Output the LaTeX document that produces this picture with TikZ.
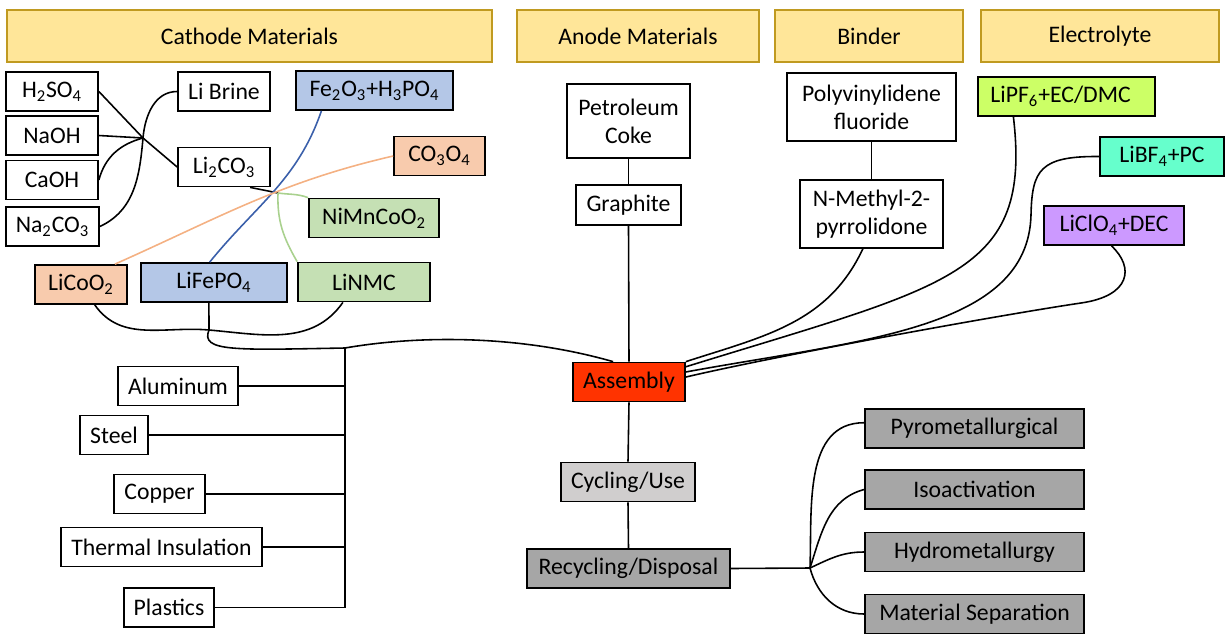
\documentclass[tikz,border=0pt]{standalone}
\usepackage{fontspec}
\setmainfont{Carlito}
\definecolor{hdrfill}{HTML}{FFE699}
\definecolor{hdrline}{HTML}{C09A20}
\definecolor{peach}{HTML}{F8CBAD}
\definecolor{paleblue}{HTML}{B4C7E7}
\definecolor{palegreen}{HTML}{C5E0B4}
\definecolor{asmred}{HTML}{FF3300}
\definecolor{lightgrey}{HTML}{D0CECE}
\definecolor{midgrey}{HTML}{A6A6A6}
\definecolor{limeish}{HTML}{CCFF66}
\definecolor{aqua}{HTML}{66FFCC}
\definecolor{lilac}{HTML}{CC99FF}
\definecolor{orangeline}{HTML}{F4B183}
\definecolor{blueline}{HTML}{3A5FAA}
\definecolor{greenline}{HTML}{A9D18E}
\begin{document}
\begin{tikzpicture}[x=0.02cm, y=0.02cm, font=\fontsize{13.5}{16}\selectfont,
  box/.style={draw, line width=1pt, minimum height=0.78cm, inner sep=1pt, align=center},
  hdr/.style={box, fill=hdrfill, draw=hdrline, minimum height=1.04cm},
  link/.style={line width=0.9pt}]
\useasboundingbox (0,0) rectangle (1225,-633);

\node[hdr, minimum width=9.7cm] (cathode) at (249.5,-36) {Cathode Materials};
\node[hdr, minimum width=4.84cm] (anode) at (638,-36) {Anode Materials};
\node[hdr, minimum width=3.76cm] (binder) at (869,-36) {Binder};
\node[hdr, minimum width=4.76cm] (electrolyte) at (1100,-36) {Electrolyte};

% cathode side
\node[box, minimum width=1.84cm] (h2so4) at (52,-91.5) {H\textsubscript{2}SO\textsubscript{4}};
\node[box, minimum width=1.84cm] (naoh) at (52,-135.5) {NaOH};
\node[box, minimum width=1.84cm] (caoh) at (52,-180) {CaOH};
\node[box, minimum width=1.86cm] (na2co3) at (52.5,-226.5) {Na\textsubscript{2}CO\textsubscript{3}};
\node[box, minimum width=1.84cm] (librine) at (224,-91.5) {Li Brine};
\node[box, minimum width=1.84cm] (li2co3) at (224,-167) {Li\textsubscript{2}CO\textsubscript{3}};
\node[box, fill=paleblue, minimum width=3.14cm] (fe2o3) at (374.5,-90.5) {Fe\textsubscript{2}O\textsubscript{3}+H\textsubscript{3}PO\textsubscript{4}};
\node[box, fill=peach, minimum width=1.82cm] (co3o4) at (439.5,-156) {CO\textsubscript{3}O\textsubscript{4}};
\node[box, fill=palegreen, minimum width=2.6cm] (nimnco) at (374,-218) {NiMnCoO\textsubscript{2}};
\node[box, fill=peach, minimum width=1.84cm] (licoo2) at (81,-284.5) {LiCoO\textsubscript{2}};
\node[box, fill=paleblue, minimum width=2.92cm] (lifepo4) at (214,-282.5) {LiFePO\textsubscript{4}};
\node[box, fill=palegreen, minimum width=2.64cm] (linmc) at (364,-282) {LiNMC};

\node[box, minimum width=2.4cm] (aluminum) at (178,-386) {Aluminum};
\node[box, minimum width=1.36cm] (steel) at (114,-435) {Steel};
\node[box, minimum width=1.82cm] (copper) at (159.5,-494) {Copper};
\node[box, minimum width=4.02cm] (thermal) at (161.5,-547) {Thermal Insulation};
\node[box, minimum width=1.8cm] (plastics) at (169,-607.5) {Plastics};

% middle
\node[box, minimum width=2.46cm, minimum height=1.48cm] (coke) at (628.5,-121) {Petroleum\\Coke};
\node[box, minimum width=2.1cm, minimum height=0.8cm] (graphite) at (628.5,-205) {Graphite};
\node[box, fill=asmred, minimum width=2.24cm] (assembly) at (629,-382) {Assembly};
\node[box, fill=lightgrey, minimum width=2.68cm] (cycling) at (628,-482) {Cycling/Use};
\node[box, fill=midgrey, minimum width=4.06cm] (recycling) at (628.5,-568.5) {Recycling/Disposal};

\node[box, fill=midgrey, minimum width=4.38cm] (pyro) at (974.5,-428.5) {Pyrometallurgical};
\node[box, fill=midgrey, minimum width=4.38cm] (iso) at (974.5,-489.5) {Isoactivation};
\node[box, fill=midgrey, minimum width=4.38cm] (hydro) at (974.5,-552) {Hydrometallurgy};
\node[box, fill=midgrey, minimum width=4.38cm] (matsep) at (974.5,-614) {Material Separation};

% binder and electrolyte
\node[box, minimum width=3.38cm, minimum height=1.36cm] (pvdf) at (871.5,-107) {Polyvinylidene\\fluoride};
\node[box, minimum width=2.86cm, minimum height=1.36cm] (nmp) at (871.5,-214) {N-Methyl-2-\\pyrrolidone};
\node[box, fill=limeish, minimum width=3.54cm] (lipf6) at (1066.5,-96.5) {LiPF\textsubscript{6}+EC/DMC\hspace{0.5em}};
\node[box, fill=aqua, minimum width=2.48cm] (libf4) at (1162,-156.5) {LiBF\textsubscript{4}+PC};
\node[box, fill=lilac, minimum width=2.8cm] (liclo4) at (1114,-225.5) {LiClO\textsubscript{4}+DEC};

% raw materials
\coordinate (jacid) at (143,-138);
\draw[link] (h2so4.east) -- (jacid) -- (li2co3.west);
\draw[link] (naoh.east) -- (jacid);
\draw[link] (caoh.east) to[out=75,in=195] (jacid);
\draw[link] (na2co3.east) to[out=25,in=-95] (jacid) to[out=85,in=180] (librine.west);

\coordinate (jcat) at (278,-193);
\draw[link] (li2co3.-38) -- (jcat);
\draw[link, greenline] (jcat) to[out=-8,in=160] (nimnco.north west);
\draw[link, greenline] (jcat) to[out=-92,in=120] (linmc.north west);
\draw[link, blueline] (fe2o3.201) to[out=-109,in=51] (lifepo4.102);
\draw[link, orangeline] (co3o4.west) to[out=193,in=24] (licoo2.31);

% cathode to assembly
\coordinate (jfe) at (209,-330);
\coordinate (jmet) at (345,-348);
\draw[link] (licoo2.-56) to[out=-55,in=175] (jfe);
\draw[link] (lifepo4.-104) -- (jfe);
\draw[link] (linmc.-136) to[out=-125,in=-5] (jfe);
\draw[link] (jfe) .. controls (200,-352) and (235,-350) .. (jmet)
  .. controls (420,-335) and (520,-335) .. (assembly.128);
\draw[link] (jmet) -- (jmet |- plastics.east) -- (plastics.east);
\foreach \m in {aluminum,steel,copper,thermal}
  \draw[link] (\m.east) -- (\m.east -| jmet);

% anode, binder, life cycle
\draw[link] (coke.south) -- (graphite.north);
\draw[link] (graphite.south) -- (assembly.north);
\draw[link] (pvdf.south) -- (nmp.north);
\draw[link] (assembly.south) -- (cycling.north);
\draw[link] (cycling.south) -- (recycling.north);

\draw[link] (nmp.-104) to[out=-115,in=18] (assembly.north east);
\draw[link] (lipf6.-159) .. controls (1032,-275) and (950,-285) .. (assembly.15);
\draw[link] (libf4.west) .. controls (1040,-156) and (1032,-170) .. (1031,-215)
  .. controls (1028,-330) and (860,-340) .. (assembly.10);
\draw[link] (liclo4.-97) .. controls (1135,-268) and (1130,-296) .. (1081,-303)
  .. controls (1000,-315) and (780,-355) .. (assembly.5);

% recycling routes
\coordinate (jrec) at (810,-568);
\draw[link] (recycling.east) -- (jrec);
\draw[link] (jrec) to[out=88,in=180] (pyro.177);
\draw[link] (jrec) to[out=72,in=195] (iso.west);
\draw[link] (jrec) to[out=25,in=180] (hydro.west);
\draw[link] (jrec) to[out=-75,in=180] (matsep.west);

\end{tikzpicture}
\end{document}
